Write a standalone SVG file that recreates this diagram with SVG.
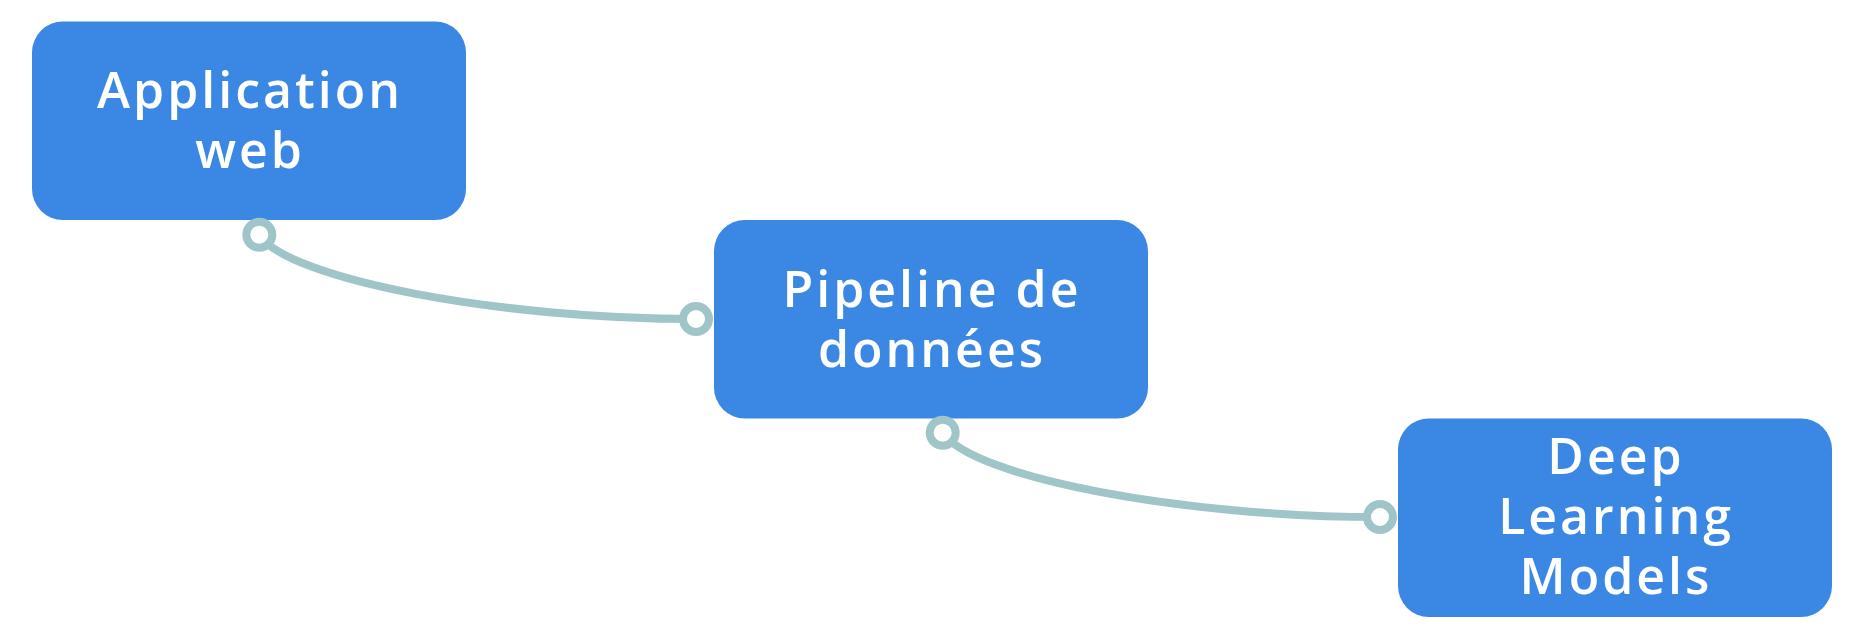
<svg xmlns="http://www.w3.org/2000/svg" width="1864" height="640" viewBox="0 0 1864 640">
<style>
.box{fill:#3b87e4;}
.lbl{fill:#ffffff;font-family:"Open Sans",Lato,"DejaVu Sans",sans-serif;font-weight:600;font-size:50px;letter-spacing:3px;text-anchor:middle;}
.edge{fill:none;stroke:#9fc5c8;stroke-width:8;stroke-linecap:round;}
.end{fill:#ffffff;stroke:#9fc5c8;stroke-width:8;}
</style>
<rect width="1864" height="640" fill="#ffffff"/>
<g id="connectors">
<path class="edge" d="M259 235 C290 280 500 319 696 319"/>
<path class="edge" d="M943 433 C974 478 1184 517 1380 517"/>
</g>
<g id="node-app">
<rect class="box" x="32" y="21.5" width="434" height="198.5" rx="31"/>
<text class="lbl" x="250" y="108">Application</text>
<text class="lbl" x="250" y="168">web</text>
</g>
<g id="node-pipeline">
<rect class="box" x="714" y="220" width="434" height="198.5" rx="31"/>
<text class="lbl" x="932" y="307">Pipeline de</text>
<text class="lbl" x="932" y="367">données</text>
</g>
<g id="node-dl">
<rect class="box" x="1398" y="418.5" width="434" height="198.5" rx="31"/>
<text class="lbl" x="1616" y="474">Deep</text>
<text class="lbl" x="1616" y="534">Learning</text>
<text class="lbl" x="1616" y="594">Models</text>
</g>
<g id="endpoints">
<circle class="end" cx="259.3" cy="234.7" r="13"/>
<circle class="end" cx="696" cy="319" r="13"/>
<circle class="end" cx="942.7" cy="432.7" r="13"/>
<circle class="end" cx="1380" cy="517" r="13"/>
</g>
</svg>
